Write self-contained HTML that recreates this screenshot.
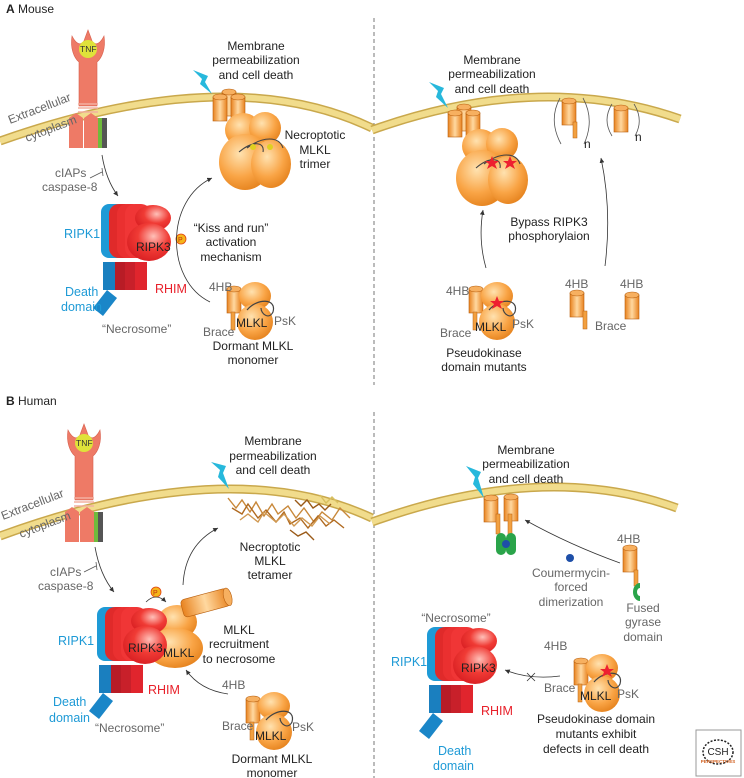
<!DOCTYPE html>
<html><head><meta charset="utf-8"><style>
html,body{margin:0;padding:0;background:#fff}
svg{display:block}
text{font-family:"Liberation Sans",Arial,sans-serif}
.t{font-size:12px;fill:#222}
.g{font-size:12px;fill:#666}
.b{font-size:12.5px;fill:#1e9ad6}
.r{font-size:12.5px;fill:#e8202a}
</style></head><body>
<svg width="744" height="778" viewBox="0 0 744 778" xmlns="http://www.w3.org/2000/svg">
<defs>
<radialGradient id="og" cx="0.4" cy="0.35" r="0.7"><stop offset="0" stop-color="#ffe2b0"/><stop offset="0.6" stop-color="#f9a445"/><stop offset="1" stop-color="#e4811c"/></radialGradient>
<radialGradient id="rg" cx="0.6" cy="0.35" r="0.7"><stop offset="0" stop-color="#ffc0b8"/><stop offset="0.5" stop-color="#f03b35"/><stop offset="1" stop-color="#d81e22"/></radialGradient>
<linearGradient id="cy" x1="0" x2="1"><stop offset="0" stop-color="#e8821e"/><stop offset="0.5" stop-color="#ffd8a0"/><stop offset="1" stop-color="#e8821e"/></linearGradient>
<marker id="ar" markerWidth="8" markerHeight="8" refX="6" refY="3" orient="auto"><path d="M0,0 L6,3 L0,6 Z" fill="#333"/></marker>

<g id="rec">
 <path d="M-16,0 C-18,12 -14,22 -9,26 L-9,70 L9,70 L9,26 C14,22 18,12 16,0 C11,10 5,10 3,2 L0,-6 L-3,2 C-5,10 -11,10 -16,0 Z" fill="#ee7a66" stroke="#d8604e" stroke-width="0.6"/>
 <circle cx="0" cy="13" r="9" fill="#dfe23a"/>
 <text x="-8" y="16" style="font-size:8.5px;fill:#333">TNF</text>
 <path d="M-10,68 h20 M-10,72 h20 M-10,76 h20" stroke="#f3b0a0" stroke-width="1.5"/>
 <path d="M-19,82 l7,-5 7,5 v30 h-14 Z M-4,82 l7,-5 7,5 v30 h-14 Z" fill="#ee7a66"/>
 <rect x="10" y="82" width="5" height="30" fill="#6fba3c"/>
 <rect x="14" y="82" width="5" height="30" fill="#555"/>
</g>

<g id="necro">
 <rect x="0" y="0" width="24" height="54" rx="8" fill="#1e9ad6"/>
 <rect x="8" y="0" width="26" height="54" rx="10" fill="#e02a2a"/>
 <rect x="16" y="0" width="26" height="54" rx="10" fill="#ea3030"/>
 <rect x="24" y="0" width="26" height="54" rx="10" fill="#f03636"/>
 <ellipse cx="52" cy="14" rx="18" ry="13" fill="url(#rg)"/>
 <ellipse cx="48" cy="38" rx="22" ry="19" fill="url(#rg)"/>
 <rect x="2" y="58" width="14" height="28" fill="#1a7fbf"/>
 <rect x="14" y="58" width="12" height="28" fill="#b81c26"/>
 <rect x="24" y="58" width="12" height="28" fill="#c8202a"/>
 <rect x="34" y="58" width="12" height="28" fill="#e0252d"/>
 <path d="M6,86 l10,8 -14,18 -10,-8 Z" fill="#1a86c8"/>
</g>

<g id="cyl">
 <rect x="0" y="3" width="14" height="24" fill="url(#cy)" stroke="#b86010" stroke-width="0.6"/>
 <ellipse cx="7" cy="3" rx="7" ry="3" fill="#f7b060" stroke="#b86010" stroke-width="0.6"/>
</g>
<g id="mono">
 <use href="#cyl" x="-20" y="-22"/>
 <rect x="-16" y="4" width="4" height="18" fill="#f2a040" stroke="#b86010" stroke-width="0.5"/>
 <ellipse cx="8" cy="-12" rx="16" ry="14" fill="url(#og)"/>
 <circle cx="8" cy="14" r="18" fill="url(#og)"/>
 <path d="M0,2 C10,-10 30,-10 26,4 C22,12 14,6 14,0" fill="none" stroke="#444" stroke-width="1.2"/>
</g>
<g id="blob3">
 <ellipse cx="0" cy="0" rx="18" ry="17" fill="url(#og)"/>
 <ellipse cx="22" cy="-2" rx="16" ry="16" fill="url(#og)"/>
 <ellipse cx="2" cy="32" rx="26" ry="28" fill="url(#og)"/>
 <ellipse cx="28" cy="34" rx="20" ry="24" fill="url(#og)"/>
 <path d="M4,18 C20,6 36,6 40,18 M-4,22 C10,10 22,12 20,22" fill="none" stroke="#444" stroke-width="1.1"/>
</g>
</defs>

<text x="6" y="13" style="font-size:12px;fill:#222"><tspan font-weight="bold">A</tspan> Mouse</text>
<text x="6" y="405" style="font-size:12px;fill:#222"><tspan font-weight="bold">B</tspan> Human</text>

<line x1="374" y1="18" x2="374" y2="385" stroke="#777" stroke-dasharray="4,3"/>
<line x1="374" y1="412" x2="374" y2="778" stroke="#777" stroke-dasharray="4,3"/>

<g fill="none">
<path d="M0,141 Q230,60 372,128" stroke="#c9a84c" stroke-width="9"/>
<path d="M0,141 Q230,60 372,128" stroke="#f1dc8c" stroke-width="6"/>
<path d="M372,130 Q540,70 680,119" stroke="#c9a84c" stroke-width="9"/>
<path d="M372,130 Q540,70 680,119" stroke="#f1dc8c" stroke-width="6"/>
<path d="M0,536 Q230,452 372,518" stroke="#c9a84c" stroke-width="9"/>
<path d="M0,536 Q230,452 372,518" stroke="#f1dc8c" stroke-width="6"/>
<path d="M372,522 Q545,460 677,508" stroke="#c9a84c" stroke-width="9"/>
<path d="M372,522 Q545,460 677,508" stroke="#f1dc8c" stroke-width="6"/>
</g>

<!-- Panel A left -->
<use href="#rec" x="88" y="36"/>
<text class="g" transform="translate(10,124) rotate(-21)">Extracellular</text>
<text class="g" transform="translate(27,142) rotate(-21)">cytoplasm</text>
<text class="g" x="55" y="177">cIAPs</text>
<text class="g" x="42" y="191">caspase-8</text>
<path d="M102,155 Q106,180 118,196" fill="none" stroke="#333" stroke-width="0.8" marker-end="url(#ar)"/>
<path d="M90,178 L102,172 M102,168 l1,8" stroke="#555" stroke-width="0.8" fill="none"/>
<use href="#necro" x="101" y="204"/>
<text class="b" x="64" y="238">RIPK1</text>
<text x="136" y="251" style="font-size:12px;fill:#222">RIPK3</text>
<text class="r" x="155" y="293">RHIM</text>
<text class="b" x="65" y="296">Death</text>
<text class="b" x="61" y="311">domain</text>
<text class="g" x="102" y="333">“Necrosome”</text>
<circle cx="181" cy="239" r="5" fill="#f5b51a" stroke="#e04010" stroke-width="0.8"/>
<text x="178" y="242" style="font-size:7px;fill:#c03010">P</text>
<text class="t" x="231" y="232" text-anchor="middle">“Kiss and run”</text>
<text class="t" x="231" y="246" text-anchor="middle">activation</text>
<text class="t" x="231" y="261" text-anchor="middle">mechanism</text>
<path d="M210,302 C165,280 165,200 212,178" fill="none" stroke="#333" stroke-width="0.8" marker-end="url(#ar)"/>
<use href="#mono" x="247" y="308"/>
<text class="g" x="209" y="291">4HB</text>
<text class="g" x="203" y="336">Brace</text>
<text x="236" y="327" style="font-size:12px;fill:#222">MLKL</text>
<text class="g" x="274" y="325">PsK</text>
<text class="t" x="253" y="350" text-anchor="middle">Dormant MLKL</text>
<text class="t" x="253" y="364" text-anchor="middle">monomer</text>
<text class="t" x="256" y="50" text-anchor="middle">Membrane</text>
<text class="t" x="256" y="64" text-anchor="middle">permeabilization</text>
<text class="t" x="256" y="79" text-anchor="middle">and cell death</text>
<path d="M193,70 L208,76 L205,82 L212,94 L200,84 L202,79 Z" fill="#27b8dc"/>
<use href="#cyl" x="222" y="89"/>
<use href="#cyl" x="213" y="94"/>
<use href="#cyl" x="231" y="94"/>
<use href="#blob3" x="243" y="130"/>
<circle cx="253" cy="147" r="3" fill="#e0d020"/><circle cx="270" cy="147" r="3" fill="#e0d020"/>
<text class="t" x="315" y="139" text-anchor="middle">Necroptotic</text>
<text class="t" x="315" y="154" text-anchor="middle">MLKL</text>
<text class="t" x="315" y="168" text-anchor="middle">trimer</text>

<!-- Panel A right -->
<text class="t" x="492" y="64" text-anchor="middle">Membrane</text>
<text class="t" x="492" y="78" text-anchor="middle">permeabilization</text>
<text class="t" x="492" y="93" text-anchor="middle">and cell death</text>
<path d="M429,82 L444,88 L441,94 L448,108 L436,97 L438,91 Z" fill="#27b8dc"/>
<use href="#cyl" x="457" y="104"/>
<use href="#cyl" x="448" y="110"/>
<use href="#cyl" x="466" y="110"/>
<use href="#blob3" x="480" y="146"/>
<path d="M492,156 l2,5 5,0 -4,3 2,5 -5,-3 -5,3 2,-5 -4,-3 5,0 Z" fill="#ee2030"/>
<path d="M510,156 l2,5 5,0 -4,3 2,5 -5,-3 -5,3 2,-5 -4,-3 5,0 Z" fill="#ee2030"/>
<path d="M560,98 Q548,120 561,144 M583,98 Q595,120 584,144 M612,104 Q602,120 612,136 M634,104 Q644,120 635,136" fill="none" stroke="#555" stroke-width="0.8"/>
<use href="#cyl" x="562" y="98"/>
<rect x="573" y="122" width="4" height="16" fill="#f2a040" stroke="#b86010" stroke-width="0.5"/>
<use href="#cyl" x="614" y="105"/>
<text class="t" x="584" y="148">n</text>
<text class="t" x="635" y="141">n</text>
<text class="t" x="549" y="226" text-anchor="middle">Bypass RIPK3</text>
<text class="t" x="549" y="240" text-anchor="middle">phosphorylaion</text>
<path d="M486,268 Q478,240 483,210" fill="none" stroke="#333" stroke-width="0.8" marker-end="url(#ar)"/>
<path d="M605,266 Q612,210 601,158" fill="none" stroke="#333" stroke-width="0.8" marker-end="url(#ar)"/>
<use href="#mono" x="489" y="308"/>
<path d="M497,296 l2,5 5,0 -4,3 2,5 -5,-3 -5,3 2,-5 -4,-3 5,0 Z" fill="#ee2030"/>
<text class="g" x="446" y="295">4HB</text>
<text class="g" x="440" y="337">Brace</text>
<text x="475" y="331" style="font-size:12px;fill:#222">MLKL</text>
<text class="g" x="512" y="328">PsK</text>
<text class="t" x="484" y="357" text-anchor="middle">Pseudokinase</text>
<text class="t" x="484" y="371" text-anchor="middle">domain mutants</text>
<text class="g" x="565" y="288">4HB</text>
<use href="#cyl" x="570" y="290"/>
<rect x="583" y="311" width="4" height="18" fill="#f2a040" stroke="#b86010" stroke-width="0.5"/>
<text class="g" x="595" y="330">Brace</text>
<text class="g" x="620" y="288">4HB</text>
<use href="#cyl" x="625" y="292"/>

<!-- Panel B left -->
<use href="#rec" x="84" y="430"/>
<text class="g" transform="translate(3,520) rotate(-21)">Extracellular</text>
<text class="g" transform="translate(21,538) rotate(-21)">cytoplasm</text>
<text class="g" x="50" y="576">cIAPs</text>
<text class="g" x="38" y="590">caspase-8</text>
<path d="M95,547 Q100,575 114,592" fill="none" stroke="#333" stroke-width="0.8" marker-end="url(#ar)"/>
<path d="M84,572 L96,566 M96,562 l1,8" stroke="#555" stroke-width="0.8" fill="none"/>
<ellipse cx="177" cy="622" rx="20" ry="17" fill="url(#og)"/>
<ellipse cx="175" cy="648" rx="28" ry="20" fill="url(#og)"/>
<g transform="rotate(-15 205 605)"><rect x="182" y="594" width="48" height="18" rx="4" fill="url(#cy)" stroke="#b86010" stroke-width="0.6"/><ellipse cx="229" cy="603" rx="4" ry="9" fill="#f7b060" stroke="#b86010" stroke-width="0.6"/></g>
<use href="#necro" x="97" y="607"/>
<text class="b" x="58" y="645">RIPK1</text>
<text x="128" y="652" style="font-size:12px;fill:#222">RIPK3</text>
<text x="163" y="657" style="font-size:12px;fill:#222">MLKL</text>
<text class="r" x="148" y="694">RHIM</text>
<text class="b" x="53" y="706">Death</text>
<text class="b" x="49" y="722">domain</text>
<text class="g" x="95" y="732">“Necrosome”</text>
<circle cx="156" cy="592" r="5" fill="#f5b51a" stroke="#e04010" stroke-width="0.8"/>
<text x="153" y="595" style="font-size:7px;fill:#c03010">P</text>
<path d="M146,602 Q156,592 166,602" fill="none" stroke="#333" stroke-width="0.8" marker-end="url(#ar)"/>
<path d="M183,585 Q185,545 218,528" fill="none" stroke="#333" stroke-width="0.8" marker-end="url(#ar)"/>
<text class="t" x="239" y="634" text-anchor="middle">MLKL</text>
<text class="t" x="239" y="648" text-anchor="middle">recruitment</text>
<text class="t" x="239" y="663" text-anchor="middle">to necrosome</text>
<path d="M228,694 Q200,690 186,670" fill="none" stroke="#333" stroke-width="0.8" marker-end="url(#ar)"/>
<use href="#mono" x="266" y="718"/>
<text class="g" x="222" y="689">4HB</text>
<text class="g" x="222" y="730">Brace</text>
<text x="255" y="740" style="font-size:12px;fill:#222">MLKL</text>
<text class="g" x="292" y="731">PsK</text>
<text class="t" x="272" y="763" text-anchor="middle">Dormant MLKL</text>
<text class="t" x="272" y="777" text-anchor="middle">monomer</text>
<text class="t" x="273" y="445" text-anchor="middle">Membrane</text>
<text class="t" x="273" y="460" text-anchor="middle">permeabilization</text>
<text class="t" x="273" y="474" text-anchor="middle">and cell death</text>
<path d="M211,462 L226,466 L223,473 L229,489 L218,477 L220,470 Z" fill="#27b8dc"/>
<g stroke-width="1.4" fill="none">
<path d="M228,498 l8,10 6,-8 8,12 6,-10 8,14 8,-12 6,10 10,-8 8,12 8,-10 10,14 8,-10 10,8 8,-12 10,10" stroke="#c8883a"/>
<path d="M232,508 l10,6 6,-10 10,14 8,-8 10,12 8,-10 6,12 10,-6 8,10 10,-12 8,10 8,-6 10,8" stroke="#b06a20"/>
<path d="M240,520 l8,-6 10,8 6,-10 12,10 8,-8 10,12 8,-8 10,8 8,-10 10,8" stroke="#d09850"/>
<path d="M295,500 l6,6 6,-6 6,8 6,-4 6,6 6,-6 M290,530 l8,6 8,-4 8,8" stroke="#9a5a18"/>
<path d="M320,495 l6,8 6,-6 6,6" stroke="#d8c060"/>
</g>
<text class="t" x="270" y="551" text-anchor="middle">Necroptotic</text>
<text class="t" x="270" y="565" text-anchor="middle">MLKL</text>
<text class="t" x="270" y="579" text-anchor="middle">tetramer</text>

<!-- Panel B right -->
<text class="t" x="526" y="454" text-anchor="middle">Membrane</text>
<text class="t" x="526" y="468" text-anchor="middle">permeabilization</text>
<text class="t" x="526" y="483" text-anchor="middle">and cell death</text>
<path d="M466,466 L481,472 L478,478 L484,498 L473,484 L475,477 Z" fill="#27b8dc"/>
<use href="#cyl" x="484" y="495"/>
<use href="#cyl" x="504" y="494"/>
<rect x="496" y="514" width="4" height="20" fill="#f2a040" stroke="#b86010" stroke-width="0.5"/>
<rect x="508" y="514" width="4" height="20" fill="#f2a040" stroke="#b86010" stroke-width="0.5"/>
<rect x="496" y="533" width="10" height="22" rx="5" fill="#2aa44a"/>
<rect x="506" y="533" width="10" height="22" rx="5" fill="#2aa44a"/>
<circle cx="506" cy="544" r="4" fill="#1e4fa8"/>
<path d="M620,563 Q570,545 525,520" fill="none" stroke="#333" stroke-width="0.8" marker-end="url(#ar)"/>
<circle cx="570" cy="558" r="4" fill="#1e4fa8"/>
<text class="g" x="571" y="577" text-anchor="middle">Coumermycin-</text>
<text class="g" x="571" y="591" text-anchor="middle">forced</text>
<text class="g" x="571" y="606" text-anchor="middle">dimerization</text>
<text class="g" x="617" y="543">4HB</text>
<use href="#cyl" x="623" y="545"/>
<rect x="634" y="570" width="4" height="16" fill="#f2a040" stroke="#b86010" stroke-width="0.5"/>
<path d="M640,583 a7,9 0 1 0 0,18 l0,-5 a3,4 0 1 1 0,-8 Z" fill="#2aa44a"/>
<text class="g" x="643" y="612" text-anchor="middle">Fused</text>
<text class="g" x="643" y="626" text-anchor="middle">gyrase</text>
<text class="g" x="643" y="641" text-anchor="middle">domain</text>
<text class="g" x="456" y="622" text-anchor="middle">“Necrosome”</text>
<use href="#necro" x="427" y="627"/>
<text class="b" x="391" y="666">RIPK1</text>
<text x="461" y="672" style="font-size:12px;fill:#222">RIPK3</text>
<text class="r" x="481" y="715">RHIM</text>
<text class="b" x="438" y="755">Death</text>
<text class="b" x="433" y="770">domain</text>
<path d="M560,676 Q530,680 505,670" fill="none" stroke="#333" stroke-width="0.8" marker-end="url(#ar)"/>
<path d="M527,673 l8,8 M535,673 l-8,8" stroke="#333" stroke-width="0.8"/>
<use href="#mono" x="594" y="680"/>
<path d="M607,664 l2,5 5,0 -4,3 2,5 -5,-3 -5,3 2,-5 -4,-3 5,0 Z" fill="#ee2030"/>
<text class="g" x="544" y="650">4HB</text>
<text class="g" x="544" y="692">Brace</text>
<text x="580" y="700" style="font-size:12px;fill:#222">MLKL</text>
<text class="g" x="617" y="698">PsK</text>
<text class="t" x="596" y="723" text-anchor="middle">Pseudokinase domain</text>
<text class="t" x="596" y="738" text-anchor="middle">mutants exhibit</text>
<text class="t" x="596" y="753" text-anchor="middle">defects in cell death</text>

<rect x="696" y="730" width="45" height="46" fill="#fff" stroke="#999" stroke-width="1"/>
<ellipse cx="718" cy="752" rx="15" ry="12" fill="none" stroke="#222" stroke-width="1.5" stroke-dasharray="2,1.5"/>
<text x="718" y="755" text-anchor="middle" style="font-size:10px;fill:#222">CSH</text>
<text x="718" y="763" text-anchor="middle" style="font-size:4.5px;fill:#d06020;font-weight:bold">PERSPECTIVES</text>
</svg>
</body></html>
